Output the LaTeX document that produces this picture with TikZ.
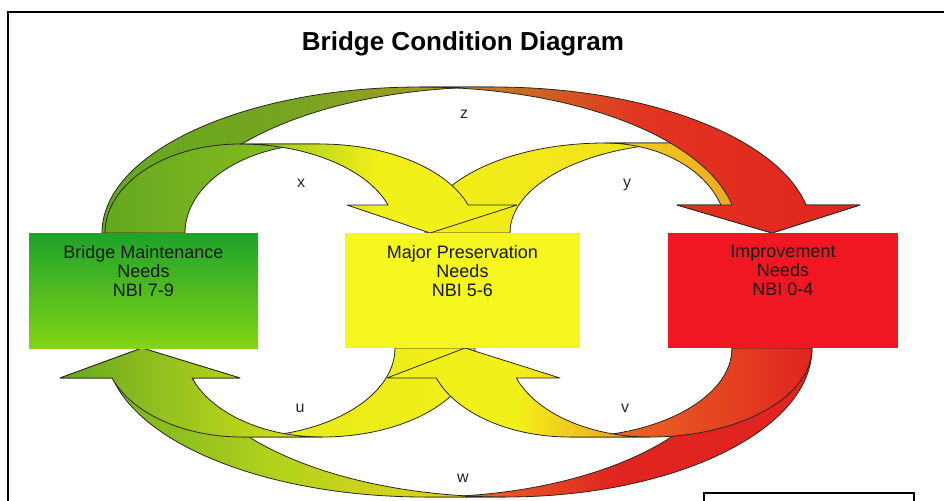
\documentclass[tikz,border=0pt]{standalone}
\usepackage{fontspec}
\setmainfont{Liberation Sans}
\usetikzlibrary{positioning}

\definecolor{boxgreenA}{RGB}{30,162,42}
\definecolor{boxgreenB}{RGB}{132,212,20}
\definecolor{boxyellow}{RGB}{245,245,32}
\definecolor{boxred}{RGB}{240,22,34}
\definecolor{arrgreen}{RGB}{100,168,32}
\definecolor{arrlime}{RGB}{140,192,30}
\definecolor{arryellow}{RGB}{242,240,25}
\definecolor{arrolive}{RGB}{180,152,35}
\definecolor{arrorange}{RGB}{236,120,35}
\definecolor{arrred}{RGB}{224,36,32}
\definecolor{edgegray}{RGB}{40,40,30}

\begin{document}
\begin{tikzpicture}[x=0.5pt, y=-0.5pt,
    band/.style = {draw=edgegray, line width=0.4pt, line join=round},
    needbox/.style = {minimum height=57.5pt, inner sep=0pt, outer sep=0pt},
    needtext/.style = {align=center, inner sep=0pt, font=\fontsize{9}{9.5}\selectfont, text=black!90},
    letter/.style = {anchor=base, inner sep=0pt, font=\fontsize{8}{10}\selectfont, text=black!85}]
  \useasboundingbox (0,0) rectangle (944,500);
  \clip (0,0) rectangle (944,500);

  % frame and the little box at the bottom
  \draw[line width=1pt] (7.5,11.5) rectangle (1000,600);
  \draw[line width=1pt] (704,493) rectangle (914,600);

  \node[anchor=base, font=\bfseries\fontsize{13}{15}\selectfont] (title) at (463,50) {Bridge Condition Diagram};

  % upper arrows: y, z, x
  \shadedraw[band, left color=arryellow, right color=arryellow!85!arrorange]
    (425,233) arc[start angle=180, end angle=270, x radius=180, y radius=90]
    -- (690,143) arc[start angle=270, end angle=180, x radius=180, y radius=90] -- cycle;
  \shadedraw[band, left color=arryellow!80!arrorange, right color=arrorange]
    (605,143) arc[start angle=-90, end angle=-18.12, x radius=122, y radius=90]
    -- (677,205) -- (772,233) -- (860,205) -- (805.9,205)
    arc[start angle=-18.12, end angle=-90, x radius=122, y radius=90] -- cycle;

  \shadedraw[band, left color=arrgreen, right color=arrolive, middle color=arrgreen!75!arrolive]
    (102,233) arc[start angle=180, end angle=270, x radius=318, y radius=146]
    -- (494,87) arc[start angle=270, end angle=180, x radius=318, y radius=146] -- cycle;
  \shadedraw[band, left color=arrolive, right color=arrred, middle color=arrred!80!arrorange]
    (420,87) arc[start angle=-90, end angle=-11.06, x radius=318, y radius=146]
    -- (677,205) -- (772,233) -- (860,205) -- (806.1,205)
    arc[start angle=-11.06, end angle=-90, x radius=318, y radius=146] -- cycle;

  \shadedraw[band, left color=arrgreen, right color=arrlime]
    (105,233) arc[start angle=180, end angle=270, x radius=135, y radius=89]
    -- (320,144) arc[start angle=270, end angle=180, x radius=135, y radius=89] -- cycle;
  \shadedraw[band, left color=arrlime, right color=arryellow, middle color=arryellow]
    (240,144) arc[start angle=-90, end angle=-18.34, x radius=156, y radius=89]
    -- (347,205) -- (430,233) -- (517,205) -- (468.1,205)
    arc[start angle=-18.34, end angle=-90, x radius=156, y radius=89] -- cycle;

  % lower arrows: w, u, v
  \shadedraw[band, left color=arrorange, right color=arrred, middle color=arrred]
    (812,348) arc[start angle=0, end angle=90, x radius=307, y radius=149]
    -- (425,497) arc[start angle=90, end angle=0, x radius=307, y radius=149] -- cycle;
  \shadedraw[band, left color=arrgreen, right color=arryellow!75!arrorange, middle color=arrlime!60!arryellow]
    (505,497) arc[start angle=90, end angle=168.38, x radius=319, y radius=149]
    -- (240,378) -- (142,348) -- (60,378) -- (112.5,378)
    arc[start angle=168.38, end angle=90, x radius=319, y radius=149] -- cycle;

  \shadedraw[band, left color=arryellow!90!arrgreen, right color=arryellow]
    (475,348) arc[start angle=0, end angle=90, x radius=153, y radius=89]
    -- (242,437) arc[start angle=90, end angle=0, x radius=153, y radius=89] -- cycle;
  \shadedraw[band, left color=arrgreen, right color=arryellow!85!arrgreen]
    (322,437) arc[start angle=90, end angle=160.3, x radius=138, y radius=89]
    -- (240,378) -- (142,348) -- (60,378) -- (112.1,378)
    arc[start angle=160.3, end angle=90, x radius=138, y radius=89] -- cycle;

  \shadedraw[band, left color=arrorange, right color=arrred]
    (812,348) arc[start angle=0, end angle=90, x radius=162, y radius=89]
    -- (570,437) arc[start angle=90, end angle=0, x radius=162, y radius=89] -- cycle;
  \shadedraw[band, left color=arryellow, right color=arrorange!80!arryellow, middle color=arryellow]
    (650,437) arc[start angle=90, end angle=160.3, x radius=142, y radius=89]
    -- (560,378) -- (465,348) -- (387,378) -- (436.3,378)
    arc[start angle=160.3, end angle=90, x radius=142, y radius=89] -- cycle;

  % the three boxes
  \node[needbox, minimum width=114.5pt, top color=boxgreenA, bottom color=boxgreenB] (maint) at (143.5,290.5) {};
  \node[needbox, minimum width=117.5pt, fill=boxyellow] (major) at (462.5,290.5) {};
  \node[needbox, minimum width=115pt, fill=boxred] (improve) at (783,290.5) {};

  \node[needtext, below=6pt of maint.north] (mainttext) {Bridge Maintenance\\Needs\\NBI 7-9};
  \node[needtext, below=6pt of major.north] (majortext) {Major Preservation\\Needs\\NBI 5-6};
  \node[needtext, below=6pt of improve.north] (improvetext) {Improvement\\Needs\\NBI 0-4};

  \node[letter] (zlabel) at (464,118) {z};
  \node[letter] (xlabel) at (301,187) {x};
  \node[letter] (ylabel) at (627,187) {y};
  \node[letter] (ulabel) at (300,412) {u};
  \node[letter] (vlabel) at (625,412) {v};
  \node[letter] (wlabel) at (463,482) {w};
\end{tikzpicture}
\end{document}
